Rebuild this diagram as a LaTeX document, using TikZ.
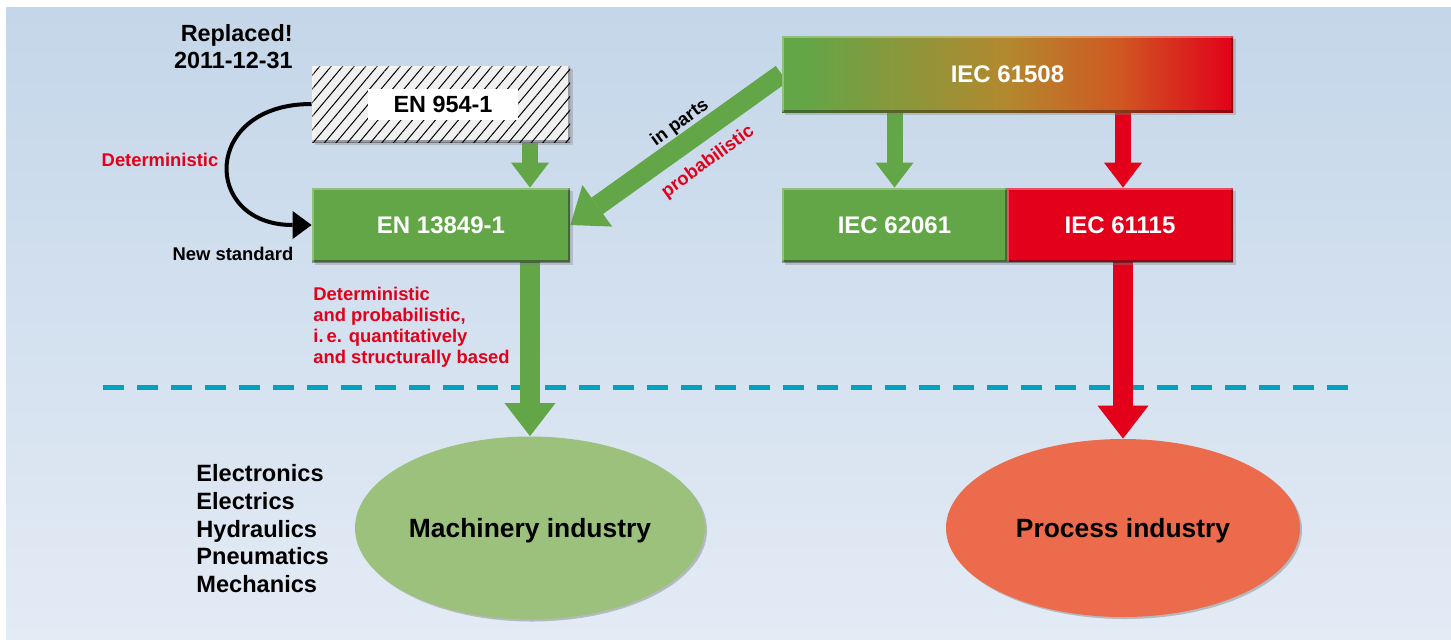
\documentclass[tikz,border=0pt]{standalone}
\usepackage{fontspec}
\setmainfont{Liberation Sans}
\usetikzlibrary{arrows.meta,shadows,patterns.meta,shapes.geometric}
\definecolor{stdgreen}{HTML}{62A647}
\definecolor{stdred}{HTML}{E2001A}
\definecolor{stdgold}{HTML}{B3882E}
\definecolor{stdorange}{HTML}{CF5A22}
\definecolor{machgreen}{HTML}{9BC17C}
\definecolor{procred}{HTML}{EC6B4C}
\definecolor{sepblue}{HTML}{00A3BF}
\definecolor{bgtop}{HTML}{C4D6E9}
\definecolor{bgbottom}{HTML}{E3EBF5}
\pgfdeclarelayer{bg}
\pgfsetlayers{bg,main}
\pgfdeclarehorizontalshading{iecgrad}{100bp}{color(0bp)=(stdgreen); color(27bp)=(stdgreen); color(50bp)=(stdgold); color(62bp)=(stdorange); color(75bp)=(stdred); color(100bp)=(stdred)}
\tikzset{
  bevel/.style={path picture={
    \draw[line width=2.5pt, black, opacity=.35] (path picture bounding box.south west) -- (path picture bounding box.south east) -- (path picture bounding box.north east);
    \draw[line width=2pt, white, opacity=.3] (path picture bounding box.south west) -- (path picture bounding box.north west) -- (path picture bounding box.north east);}},
  stdbox/.style={rectangle, inner sep=0pt, minimum height=37pt, text=white,
    font=\bfseries\fontsize{12}{14}\selectfont,
    drop shadow={shadow xshift=1.5pt, shadow yshift=-1.5pt, opacity=.35}, bevel},
  industry/.style={ellipse, inner sep=0pt, text depth=0pt, font=\bfseries\fontsize{13.2}{15}\selectfont,
    drop shadow={shadow xshift=1pt, shadow yshift=-1pt, opacity=.45}},
  smallarrow/.style={line width=8pt, -{Triangle[width=19pt, length=12.5pt, line width=0pt]}},
  bigarrow/.style={line width=10pt, -{Triangle[width=25.5pt, length=16.5pt, line width=0pt]}},
  curvearrow/.style={line width=2pt, -{Triangle[width=14pt, length=9.5pt, line width=0pt]}},
  note/.style={font=\bfseries\fontsize{9.2}{10.5}\selectfont},
}
\begin{document}
\begin{tikzpicture}[x=0.5pt, y=-0.5pt, every node/.style={font=\bfseries}]
  \useasboundingbox (0,0) rectangle (1451,639);
  \node[stdbox, minimum width=129pt, minimum height=38pt, preaction={fill=gray!12},
    pattern={Lines[angle=50, distance=4.4pt, line width=0.5pt]}] (en954) at (441,104) {};
  \node[fill=white, inner sep=0pt, minimum width=75pt, minimum height=15.5pt,
    font=\bfseries\fontsize{11.7}{14}\selectfont] (en954lbl) at (443,104) {EN 954-1};
  \node[stdbox, minimum width=129pt, fill=stdgreen] (en13849) at (441,225) {EN 13849-1};
  \node[stdbox, minimum width=225.5pt, minimum height=38pt, shading=iecgrad] (iec61508) at (1007.5,74) {IEC 61508};
  \node[stdbox, minimum width=112.5pt, fill=stdgreen] (iec62061) at (894.5,225) {IEC 62061};
  \node[stdbox, minimum width=113pt, fill=stdred] (iec61115) at (1120,225) {IEC 61115};
  \node[industry, minimum width=175pt, minimum height=91.5pt, fill=machgreen] (machinery) at (530,528) {Machinery industry};
  \node[industry, minimum width=177pt, minimum height=89pt, fill=procred] (process) at (1123,528) {Process industry};
  \node[align=right, anchor=north east, inner sep=0pt, font=\bfseries\fontsize{11.7}{13.5}\selectfont] (replaced) at (293,24) {Replaced!\\2011-12-31};
  \node[note, text=stdred] (determ) at (160,160) {Deterministic};
  \node[note] (newstd) at (233,254) {New standard};
  \node[note, text=stdred, align=left, anchor=north west, inner sep=0pt] (basis) at (313,287) {Deterministic\\and probabilistic,\\i.\,e. quantitatively\\and structurally based};
  \node[align=left, anchor=north west, inner sep=0pt, font=\bfseries\fontsize{11.8}{13.9}\selectfont] (fields) at (196,464) {Electronics\\Electrics\\Hydraulics\\Pneumatics\\Mechanics};
  \node[note, rotate=36, inner sep=1pt] (inparts) at (680,123) {in parts};
  \node[note, text=stdred, rotate=36, inner sep=1pt] (probab) at (708,162) {probabilistic};
  \begin{pgfonlayer}{bg}
    \fill[top color=bgtop, bottom color=bgbottom] (6,7) rectangle (1451,639);
    \draw[sepblue, line width=2.5pt, dash pattern=on 10.5pt off 6.5pt] (103,387) -- (1357,387);
    \draw[smallarrow, stdgreen] (en954.south -| machinery) -- (en13849.north -| machinery);
    \draw[smallarrow, stdgreen] (iec61508.south -| iec62061) -- (iec62061);
    \draw[smallarrow, stdred] (iec61508.south -| process) -- (iec61115.north -| process);
    \draw[bigarrow, stdgreen] (iec61508.west) -- (en13849.east);
    \draw[bigarrow, stdgreen] (en13849.south -| machinery) -- (machinery);
    \draw[bigarrow, stdred] (iec61115.south -| process) -- (process);
    \draw[curvearrow] (en954.west) .. controls +(-110,0) and +(-110,0) .. (en13849.west);
  \end{pgfonlayer}
\end{tikzpicture}
\end{document}
